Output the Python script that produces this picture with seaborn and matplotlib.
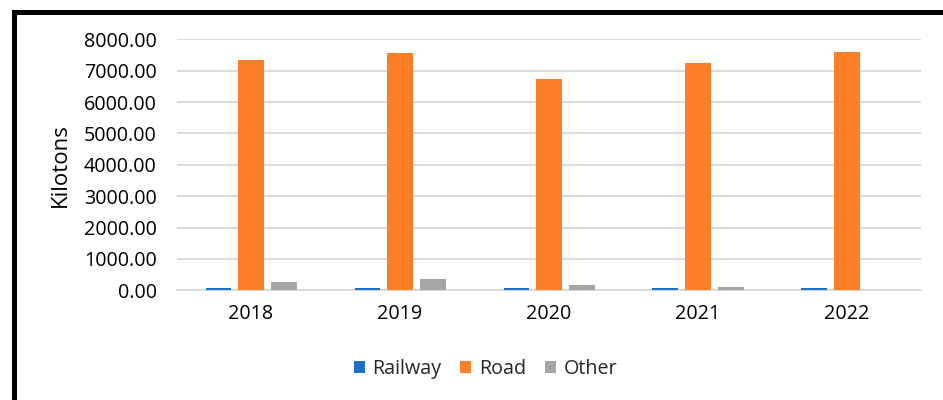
import matplotlib
matplotlib.use("Agg")
import matplotlib.pyplot as plt
from matplotlib.patches import Rectangle, Patch
import seaborn as sns
import pandas as pd

# Freight transported by mode, kilotons
years = ["2018", "2019", "2020", "2021", "2022"]
railway = [75, 72, 65, 70, 74]
road = [7334, 7548, 6739, 7229, 7580]
other = [274, 370, 160, 105, 15]
modes = ["Railway", "Road", "Other"]
colors = ["#1F6FC8", "#FF7F27", "#A5A5A5"]
yticks = [0, 1000, 2000, 3000, 4000, 5000, 6000, 7000, 8000]

df = pd.DataFrame({
    "year": years * 3,
    "mode": [m for m in modes for _ in years],
    "value": railway + road + other,
})

sns.set_theme(style="white")
plt.rcParams["font.family"] = ["Open Sans", "DejaVu Sans"]
fs = 14.2

fig = plt.figure(figsize=(9.43, 4.0), dpi=100)
ax = fig.add_axes([0.1872, 0.274, 0.790, 0.628])

sns.barplot(data=df, x="year", y="value", hue="mode", hue_order=modes,
            order=years, palette=colors, saturation=1, width=0.664, gap=0.24,
            ax=ax, linewidth=0, legend=False, zorder=3)

ax.set_ylim(0, 8000)
ax.set_yticks(yticks)
ax.set_yticklabels([f"{v:.2f}" for v in yticks], fontsize=fs, color="black")
ax.yaxis.grid(True, color="#D9D9D9", linewidth=1.4, zorder=0)
ax.set_axisbelow(True)
for s in ["top", "right", "left"]:
    ax.spines[s].set_visible(False)
ax.spines["bottom"].set_color("#D9D9D9")
ax.spines["bottom"].set_linewidth(1.4)
ax.spines["bottom"].set_zorder(1)
ax.tick_params(axis="y", length=0, pad=14.4)
ax.tick_params(axis="x", length=0, pad=10, labelsize=fs, labelcolor="black")
ax.set_xlabel("")
ax.set_ylabel("Kilotons", fontsize=16, color="black", labelpad=9)

handles = [Patch(facecolor=c, edgecolor="none", label=m) for m, c in zip(modes, colors)]
fig.legend(handles=handles, loc="center", bbox_to_anchor=(0.515, 0.077), ncol=3,
           frameon=False, fontsize=fs, handlelength=0.55, handleheight=0.55,
           handletextpad=0.4, columnspacing=0.95)

# Outer chart frame
fig.add_artist(Rectangle((0.0145, -0.2), 1.2, 0.97 + 0.2, transform=fig.transFigure,
                         fill=False, edgecolor="black", linewidth=3.6))

fig.savefig("out.png", dpi=100)
